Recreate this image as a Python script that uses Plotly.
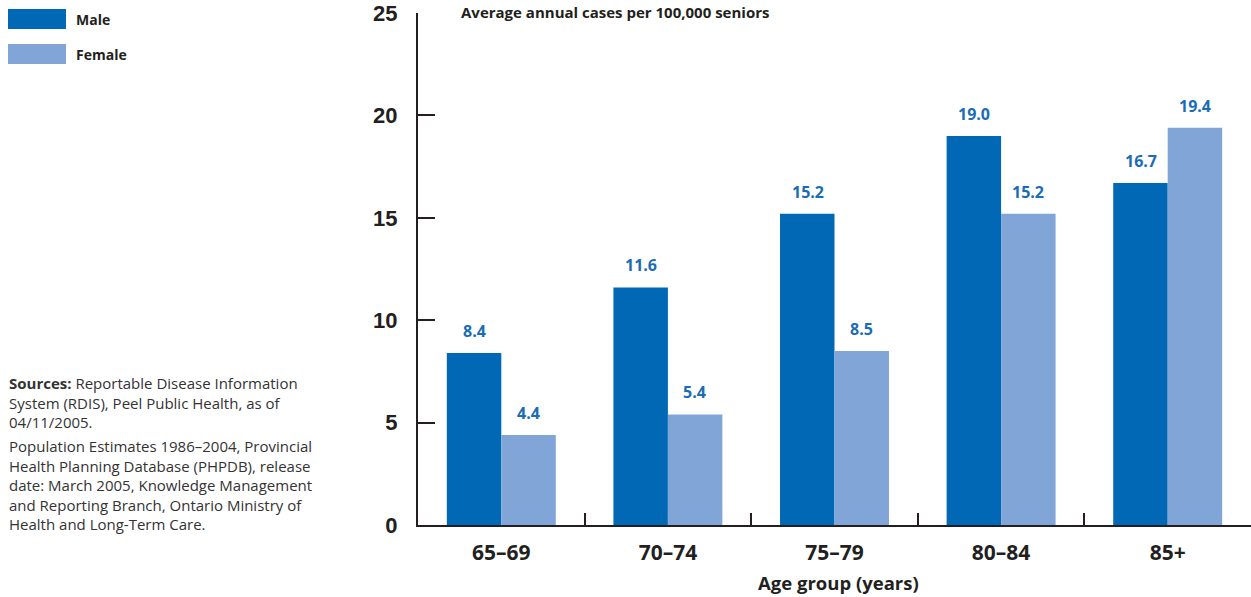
import plotly.graph_objects as go

categories = ["65–69", "70–74", "75–79", "80–84", "85+"]
male = [8.4, 11.6, 15.2, 19.0, 16.7]
female = [4.4, 5.4, 8.5, 15.2, 19.4]
y_ticks = [0, 5, 10, 15, 20, 25]

MALE_C = "#0068b5"
FEMALE_C = "#80a5d6"
LABEL_C = "#1a6cb5"
INK = "#231f20"
COND = "Open Sans, sans-serif"
BODY = "Open Sans, sans-serif"
TICKY = "Liberation Sans, Arial, sans-serif"

fig = go.Figure()
fig.add_trace(go.Bar(x=categories, y=male, name="Male", marker_color=MALE_C,
                     marker_line_width=0, showlegend=False))
fig.add_trace(go.Bar(x=categories, y=female, name="Female", marker_color=FEMALE_C,
                     marker_line_width=0, showlegend=False))

ann = []
for c, v in zip(categories, male):
    ann.append(dict(x=c, y=v, xref="x", yref="y", text=f"<b>{v:.1f}</b>", showarrow=False,
                    xshift=-27, yshift=22, font=dict(family=BODY, size=16, color=LABEL_C)))
for c, v in zip(categories, female):
    ann.append(dict(x=c, y=v, xref="x", yref="y", text=f"<b>{v:.1f}</b>", showarrow=False,
                    xshift=27, yshift=22, font=dict(family=BODY, size=16, color=LABEL_C)))

W, H = 1251, 597
L, R, T, B = 418, 0, 13, 72
pw, ph = W - L - R, H - T - B

def px(xp):
    return (xp - L) / pw

def py(yp):
    return (H - B - yp) / ph

ann.append(dict(x=px(459), y=py(12), xref="paper", yref="paper", xanchor="left", yanchor="middle",
                text="<b>Average annual cases per 100,000 seniors</b>", showarrow=False,
                font=dict(family=BODY, size=15, color=INK)))
ann.append(dict(x=px(838), y=py(582), xref="paper", yref="paper", xanchor="center", yanchor="middle",
                text="<b>Age group (years)</b>", showarrow=False,
                font=dict(family=COND, size=18.5, color=INK)))
# legend
shapes = []
for label, col, yc in [("Male", MALE_C, 19), ("Female", FEMALE_C, 54)]:
    shapes.append(dict(type="rect", xref="paper", yref="paper", x0=px(8), x1=px(66),
                       y0=py(yc - 10), y1=py(yc + 10), fillcolor=col, line_width=0))
    ann.append(dict(x=px(74), y=py(yc), xref="paper", yref="paper", xanchor="left", yanchor="middle",
                    text=f"<b>{label}</b>", showarrow=False,
                    font=dict(family=BODY, size=14, color=INK)))

src1 = ("<b>Sources:</b> Reportable Disease Information<br>System (RDIS), Peel Public Health, as of"
        "<br>04/11/2005.")
src2 = ("Population Estimates 1986–2004, Provincial<br>Health Planning Database (PHPDB), release"
        "<br>date: March 2005, Knowledge Management<br>and Reporting Branch, Ontario Ministry of"
        "<br>Health and Long-Term Care.")
ann.append(dict(x=px(7), y=py(371), xref="paper", yref="paper", xanchor="left", yanchor="top",
                text=src1, showarrow=False, align="left",
                font=dict(family=BODY, size=15, color="#333333")))
ann.append(dict(x=px(7), y=py(434), xref="paper", yref="paper", xanchor="left", yanchor="top",
                text=src2, showarrow=False, align="left",
                font=dict(family=BODY, size=15, color="#333333")))

fig.update_layout(
    width=W, height=H, margin=dict(l=L, r=R, t=T, b=B, autoexpand=False),
    paper_bgcolor="white", plot_bgcolor="white",
    barmode="group", bargap=0.346, bargroupgap=0,
    annotations=ann, shapes=shapes, showlegend=False,
)
fig.update_yaxes(range=[0, 25], tickvals=y_ticks, ticks="inside", ticklen=17, tickwidth=2,
                 tickcolor=INK, showline=True, linewidth=2, linecolor=INK, showgrid=False,
                 zeroline=False, ticklabelstandoff=14, ticklabeloverflow="allow", automargin=False,
                 tickfont=dict(family=TICKY, size=22, color=INK, weight="bold"))
fig.update_xaxes(ticks="inside", tickson="boundaries", ticklen=12, tickwidth=2, tickcolor=INK,
                 showline=True, linewidth=2, linecolor=INK, showgrid=False, ticklabelstandoff=8,
                 automargin=False,
                 tickfont=dict(family=COND, size=21, color=INK, weight="bold"))

fig.write_html("out.html")
